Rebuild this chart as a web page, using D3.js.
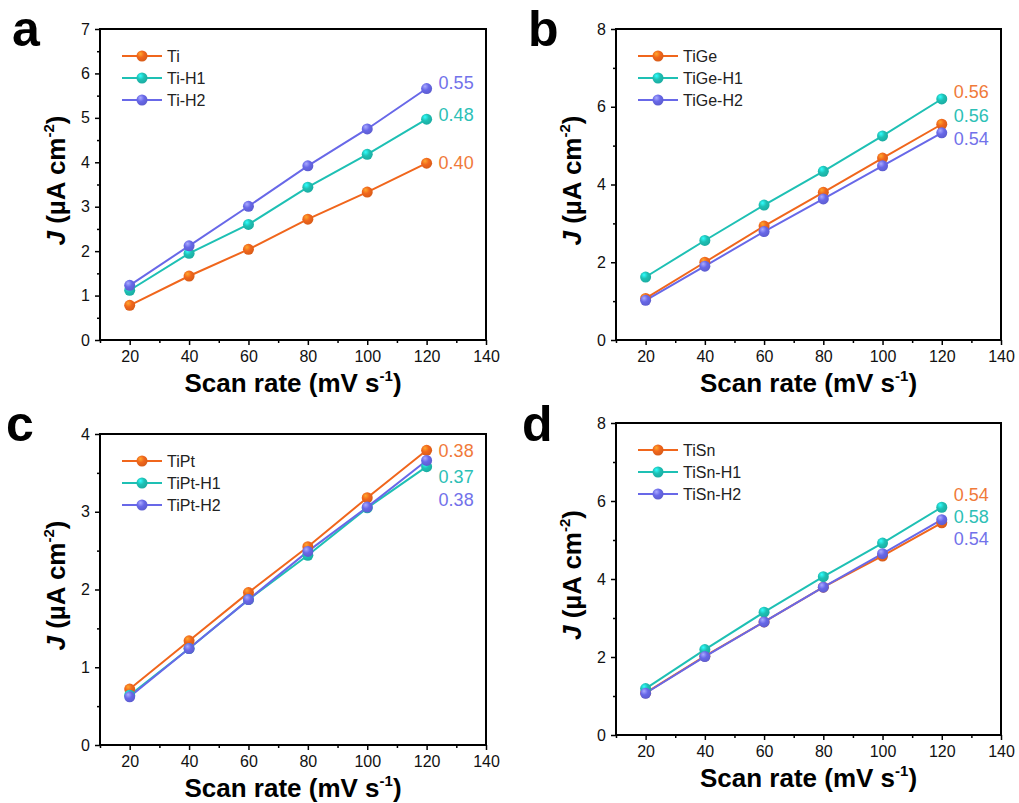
<!DOCTYPE html>
<html>
<head>
<meta charset="utf-8">
<script src="https://cdn.jsdelivr.net/npm/d3@7"></script>
<style>
  body { margin: 0; background: #fff; }
  svg { display: block; font-family: "Liberation Sans", Arial, sans-serif; }
</style>
</head>
<body>
<svg></svg>
<script>
// scan rates shared by all four panels
let scanRates = [20, 40, 60, 80, 100, 120];

// panel a
let namesA = ["Ti", "Ti-H1", "Ti-H2"];
let tiA = [0.78, 1.44, 2.04, 2.72, 3.33, 3.98];
let tiH1A = [1.12, 1.95, 2.60, 3.44, 4.18, 4.97];
let tiH2A = [1.23, 2.12, 3.01, 3.92, 4.75, 5.66];
let slopesA = ["0.40", "0.48", "0.55"];

// panel b
let namesB = ["TiGe", "TiGe-H1", "TiGe-H2"];
let tiGe = [1.07, 2.00, 2.93, 3.80, 4.68, 5.55];
let tiGeH1 = [1.62, 2.56, 3.47, 4.34, 5.25, 6.20];
let tiGeH2 = [1.02, 1.90, 2.79, 3.63, 4.48, 5.33];
let slopesB = ["0.56", "0.56", "0.54"];

// panel c
let namesC = ["TiPt", "TiPt-H1", "TiPt-H2"];
let tiPt = [0.72, 1.34, 1.96, 2.55, 3.18, 3.79];
let tiPtH1 = [0.64, 1.24, 1.87, 2.44, 3.05, 3.58];
let tiPtH2 = [0.62, 1.24, 1.87, 2.49, 3.06, 3.66];
let slopesC = ["0.38", "0.37", "0.38"];

// panel d
let namesD = ["TiSn", "TiSn-H1", "TiSn-H2"];
let tiSn = [1.08, 2.02, 2.90, 3.79, 4.59, 5.44];
let tiSnH1 = [1.19, 2.19, 3.15, 4.06, 4.92, 5.84];
let tiSnH2 = [1.07, 2.01, 2.90, 3.79, 4.65, 5.52];
let slopesD = ["0.54", "0.58", "0.54"];

// tick values
let xTicks = [20, 40, 60, 80, 100, 120, 140];
let xMinorTicks = [10, 30, 50, 70, 90, 110, 130];

// line colours, then the slightly lighter text colours for the slope labels
let colors = ["#f0661c", "#1ec0b4", "#6868e8"];
let labelColors = ["#f07a3a", "#2cc0b6", "#7272ea"];

let width = 1019;
let height = 803;

let svg = d3.select("svg")
  .attr("width", width)
  .attr("height", height);

// shiny ball markers
let defs = svg.append("defs");
colors.forEach((c, i) => {
  let g = defs.append("radialGradient")
    .attr("id", "ball" + i)
    .attr("cx", "40%").attr("cy", "35%").attr("r", "65%")
    .attr("fx", "35%").attr("fy", "30%");
  g.append("stop").attr("offset", "0%").attr("stop-color", d3.color(c).brighter(1.4));
  g.append("stop").attr("offset", "50%").attr("stop-color", c);
  g.append("stop").attr("offset", "100%").attr("stop-color", d3.color(c).darker(0.3));
});

// layout of the four panels (frame box, y range, label spots)
let panels = [
  { letter: "a", left: 100, top: 29, right: 486, bottom: 340, yMax: 7, yStep: 1,
    names: namesA, series: [tiA, tiH1A, tiH2A], slopes: slopesA,
    slopeY: [4.0, 5.07, 5.79], letterX: 12, letterY: 46 },
  { letter: "b", left: 616, top: 29, right: 1001, bottom: 340, yMax: 8, yStep: 2,
    names: namesB, series: [tiGe, tiGeH1, tiGeH2], slopes: slopesB,
    slopeY: [6.4, 5.76, 5.17], letterX: 528, letterY: 46 },
  { letter: "c", left: 100, top: 434, right: 486, bottom: 745, yMax: 4, yStep: 1,
    names: namesC, series: [tiPt, tiPtH1, tiPtH2], slopes: slopesC,
    slopeY: [3.78, 3.45, 3.15], letterX: 6, letterY: 441 },
  { letter: "d", left: 616, top: 423, right: 1001, bottom: 735, yMax: 8, yStep: 2,
    names: namesD, series: [tiSn, tiSnH1, tiSnH2], slopes: slopesD,
    slopeY: [6.15, 5.59, 5.03], letterX: 522, letterY: 441 }
];

let drawPanel = (p) => {
  let xScale = d3.scaleLinear()
    .domain([10, 140])
    .range([p.left, p.right]);
  let yScale = d3.scaleLinear()
    .domain([0, p.yMax])
    .range([p.bottom, p.top]);

  let yTicks = d3.range(0, p.yMax + 0.001, p.yStep);
  let yMinorTicks = d3.range(p.yStep / 2, p.yMax, p.yStep);

  // minor ticks first, majors on top
  svg.append("g")
    .attr("transform", "translate(0," + p.bottom + ")")
    .call(d3.axisBottom(xScale).tickValues(xMinorTicks).tickSize(3).tickSizeOuter(0).tickFormat(""))
    .call(g => g.select(".domain").remove())
    .selectAll("line").attr("stroke-width", 1.5);

  svg.append("g")
    .attr("transform", "translate(" + p.left + ",0)")
    .call(d3.axisLeft(yScale).tickValues(yMinorTicks).tickSize(3).tickSizeOuter(0).tickFormat(""))
    .call(g => g.select(".domain").remove())
    .selectAll("line").attr("stroke-width", 1.5);

  let xAxis = svg.append("g")
    .attr("transform", "translate(0," + p.bottom + ")")
    .call(d3.axisBottom(xScale).tickValues(xTicks).tickSize(5).tickSizeOuter(0).tickPadding(6));
  xAxis.select(".domain").remove();
  xAxis.selectAll("line").attr("stroke-width", 1.5);
  xAxis.selectAll("text")
    .attr("font-size", 16)
    .attr("font-family", "Liberation Sans, Arial, sans-serif")
    .attr("fill", "#111");

  let yAxis = svg.append("g")
    .attr("transform", "translate(" + p.left + ",0)")
    .call(d3.axisLeft(yScale).tickValues(yTicks).tickSize(5).tickSizeOuter(0).tickPadding(5).tickFormat(d3.format("d")));
  yAxis.select(".domain").remove();
  yAxis.selectAll("line").attr("stroke-width", 1.5);
  yAxis.selectAll("text")
    .attr("font-size", 16)
    .attr("font-family", "Liberation Sans, Arial, sans-serif")
    .attr("fill", "#111");

  // frame
  svg.append("rect")
    .attr("x", p.left)
    .attr("y", p.top)
    .attr("width", p.right - p.left)
    .attr("height", p.bottom - p.top)
    .attr("fill", "none")
    .attr("stroke", "#000")
    .attr("stroke-width", 2);

  // lines and markers
  let line = d3.line()
    .x((d, i) => xScale(scanRates[i]))
    .y(d => yScale(d));

  p.series.forEach((values, k) => {
    svg.append("path")
      .datum(values)
      .attr("d", line)
      .attr("fill", "none")
      .attr("stroke", colors[k])
      .attr("stroke-width", 2);
  });
  p.series.forEach((values, k) => {
    svg.selectAll(null)
      .data(values)
      .enter()
      .append("circle")
      .attr("cx", (d, i) => xScale(scanRates[i]))
      .attr("cy", d => yScale(d))
      .attr("r", 5.5)
      .attr("fill", "url(#ball" + k + ")");
  });

  // slope labels at the right end
  p.slopes.forEach((s, k) => {
    svg.append("text")
      .attr("x", xScale(120) + 12)
      .attr("y", yScale(p.slopeY[k]))
      .attr("dy", "0.35em")
      .attr("font-size", 18)
      .attr("fill", labelColors[k])
      .text(s);
  });

  // legend
  p.names.forEach((n, k) => {
    let ly = p.top + 27 + k * 22;
    let lx = p.left + 22;
    svg.append("line")
      .attr("x1", lx).attr("x2", lx + 40)
      .attr("y1", ly).attr("y2", ly)
      .attr("stroke", colors[k])
      .attr("stroke-width", 2);
    svg.append("circle")
      .attr("cx", lx + 20).attr("cy", ly)
      .attr("r", 5.5)
      .attr("fill", "url(#ball" + k + ")");
    svg.append("text")
      .attr("x", lx + 45)
      .attr("y", ly)
      .attr("dy", "0.36em")
      .attr("font-size", 16)
      .attr("fill", "#222")
      .text(n);
  });

  // x axis title
  let xt = svg.append("text")
    .attr("x", (p.left + p.right) / 2)
    .attr("y", p.bottom + 52)
    .attr("text-anchor", "middle")
    .attr("font-size", 26)
    .attr("font-weight", "bold");
  xt.append("tspan").text("Scan rate (mV s");
  xt.append("tspan").attr("font-size", 15).attr("dy", -11).text("-1");
  xt.append("tspan").attr("dy", 11).text(")");

  // y axis title
  let yt = svg.append("text")
    .attr("transform", "translate(" + (p.left - 35) + "," + ((p.top + p.bottom) / 2 - 4) + ") rotate(-90)")
    .attr("text-anchor", "middle")
    .attr("font-size", 26)
    .attr("font-weight", "bold");
  yt.append("tspan").attr("font-style", "italic").text("J");
  yt.append("tspan").text(" (\u00b5A cm");
  yt.append("tspan").attr("font-size", 15).attr("dy", -11).text("-2");
  yt.append("tspan").attr("dy", 11).text(")");

  // panel letter
  svg.append("text")
    .attr("x", p.letterX)
    .attr("y", p.letterY)
    .attr("font-size", 50)
    .attr("font-weight", "bold")
    .text(p.letter);
};

panels.forEach(drawPanel);
</script>
</body>
</html>
